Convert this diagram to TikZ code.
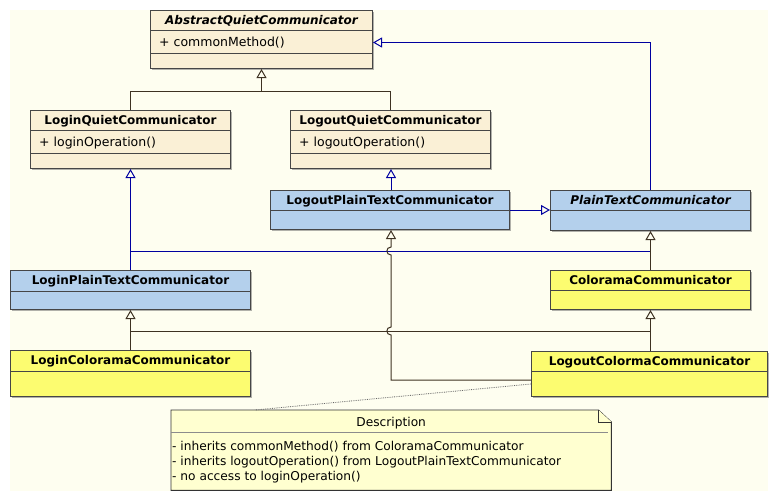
\documentclass[tikz,border=0pt]{standalone}
\usepackage{fontspec}
\setmainfont{DejaVu Sans}
\usepackage{tikz}
\usetikzlibrary{arrows.meta,shadows}
\definecolor{canvasbg}{RGB}{254,254,240}
\definecolor{quietfill}{RGB}{250,240,214}
\definecolor{plainfill}{RGB}{180,208,236}
\definecolor{colorfill}{RGB}{252,252,112}
\definecolor{notefill}{RGB}{255,255,208}
\definecolor{boxline}{RGB}{70,70,70}
\definecolor{genline}{RGB}{62,50,34}
\definecolor{realline}{RGB}{0,0,160}
\tikzset{
  cls/.style={draw=boxline, line width=1pt, anchor=north west, inner sep=0pt,
    drop shadow={shadow xshift=1.5pt, shadow yshift=-1.5pt, fill=black!60}},
  cname/.style={font=\fontsize{12}{14}\selectfont\bfseries, inner sep=0pt, anchor=base},
  cnameit/.style={cname, font=\fontsize{12}{14}\selectfont\bfseries\itshape},
  member/.style={font=\fontsize{12.5}{15}\selectfont, inner sep=0pt, anchor=base west},
  notetext/.style={member, font=\fontsize{12.2}{15}\selectfont},
  sep/.style={draw=boxline, line width=1pt},
  gen/.style={draw=genline, line width=1pt},
  inh/.style={gen, -{Triangle[open, length=9pt, width=10pt]}},
  bline/.style={draw=realline, line width=1pt},
  binh/.style={bline, -{Triangle[open, length=9pt, width=10pt]}},
  notebox/.style={draw=black!80, line width=0.9pt, fill=notefill},
  dotline/.style={draw=black!60, line width=0.8pt, densely dotted}
}
\begin{document}
\begin{tikzpicture}[x=1pt, y=-1pt]
  \useasboundingbox (0,0) rectangle (778,501);
  \fill[white] (0,0) rectangle (778,501);
  \fill[canvasbg] (10,10) rectangle (768,491);
  % quiet classes
  \node[cls, fill=quietfill, minimum width=222pt, minimum height=58pt] (abs) at (150,10) {};
  \node[cnameit] (absname) at ([yshift=-14.5pt]abs.north) {AbstractQuietCommunicator};
  \node[member] (absop) at ([xshift=9pt, yshift=-36.5pt]abs.north west) {+ commonMethod()};
  \draw[sep] ([yshift=-20pt]abs.north west) -- ([yshift=-20pt]abs.north east);
  \draw[sep] ([yshift=-43pt]abs.north west) -- ([yshift=-43pt]abs.north east);

  \node[cls, fill=quietfill, minimum width=200pt, minimum height=58pt] (loginq) at (30,110) {};
  \node[cname] (loginqname) at ([yshift=-14.5pt]loginq.north) {LoginQuietCommunicator};
  \node[member] (loginqop) at ([xshift=9pt, yshift=-36pt]loginq.north west) {+ loginOperation()};
  \draw[sep] ([yshift=-20pt]loginq.north west) -- ([yshift=-20pt]loginq.north east);
  \draw[sep] ([yshift=-43pt]loginq.north west) -- ([yshift=-43pt]loginq.north east);

  \node[cls, fill=quietfill, minimum width=200pt, minimum height=58pt] (logoutq) at (290,110) {};
  \node[cname] (logoutqname) at ([yshift=-14.5pt]logoutq.north) {LogoutQuietCommunicator};
  \node[member] (logoutqop) at ([xshift=9pt, yshift=-36pt]logoutq.north west) {+ logoutOperation()};
  \draw[sep] ([yshift=-20pt]logoutq.north west) -- ([yshift=-20pt]logoutq.north east);
  \draw[sep] ([yshift=-43pt]logoutq.north west) -- ([yshift=-43pt]logoutq.north east);

  % plain text classes
  \node[cls, fill=plainfill, minimum width=239pt, minimum height=39pt] (logoutp) at (270,190) {};
  \node[cname] (logoutpname) at ([yshift=-14.5pt]logoutp.north) {LogoutPlainTextCommunicator};
  \draw[sep] ([yshift=-20pt]logoutp.north west) -- ([yshift=-20pt]logoutp.north east);

  \node[cls, fill=plainfill, minimum width=200pt, minimum height=40pt] (plain) at (550,190) {};
  \node[cnameit] (plainname) at ([yshift=-14.5pt]plain.north) {PlainTextCommunicator};
  \draw[sep] ([yshift=-20pt]plain.north west) -- ([yshift=-20pt]plain.north east);

  \node[cls, fill=plainfill, minimum width=240pt, minimum height=39pt] (loginp) at (10,270) {};
  \node[cname] (loginpname) at ([yshift=-14.5pt]loginp.north) {LoginPlainTextCommunicator};
  \draw[sep] ([yshift=-21pt]loginp.north west) -- ([yshift=-21pt]loginp.north east);

  % colorama classes
  \node[cls, fill=colorfill, minimum width=200pt, minimum height=39pt] (colo) at (550,270) {};
  \node[cname] (coloname) at ([yshift=-14.5pt]colo.north) {ColoramaCommunicator};
  \draw[sep] ([yshift=-20pt]colo.north west) -- ([yshift=-20pt]colo.north east);

  \node[cls, fill=colorfill, minimum width=240pt, minimum height=46pt] (logincolo) at (10,350) {};
  \node[cname] (logincoloname) at ([yshift=-14.5pt]logincolo.north) {LoginColoramaCommunicator};
  \draw[sep] ([yshift=-21pt]logincolo.north west) -- ([yshift=-21pt]logincolo.north east);

  \node[cls, fill=colorfill, minimum width=236pt, minimum height=45pt] (logoutcolo) at (531,351) {};
  \node[cname] (logoutcoloname) at ([yshift=-14.5pt]logoutcolo.north) {LogoutColormaCommunicator};
  \draw[sep] ([yshift=-20pt]logoutcolo.north west) -- ([yshift=-20pt]logoutcolo.north east);

  % note
  \node[inner sep=0pt, minimum width=440pt, minimum height=80pt, anchor=north west] (note) at (171,410) {};
  \draw[notebox] (note.north west) -- ([xshift=-13pt]note.north east) -- ([yshift=-12pt]note.north east)
    -- (note.south east) -- (note.south west) -- cycle;
  \draw[notebox] ([xshift=-13pt]note.north east) -- ([xshift=-13pt, yshift=-12pt]note.north east)
    -- ([yshift=-12pt]note.north east);
  \draw[draw=black!45, line width=0.8pt] ([yshift=-22pt]note.north west) -- ([xshift=-3pt, yshift=-22pt]note.north east);
  \node[notetext, anchor=base] (notetitle) at ([yshift=-16pt]note.north) {Description};
  \node[notetext] (noteline1) at ([xshift=1pt, yshift=-40pt]note.north west) {- inherits commonMethod() from ColoramaCommunicator};
  \node[notetext] (noteline2) at ([xshift=1pt, yshift=-55pt]note.north west) {- inherits logoutOperation() from LogoutPlainTextCommunicator};
  \node[notetext] (noteline3) at ([xshift=1pt, yshift=-70pt]note.north west) {- no access to loginOperation()};

  % generalizations
  \path (abs.south) ++(0,22) coordinate (qj);
  \draw[inh] (loginq.north) |- (qj) -- (abs.south);
  \draw[gen] (logoutq.north) |- (qj);
  \coordinate (lpx) at ([xshift=1pt]logoutp.south);
  \draw[binh] (lpx |- logoutp.north) -- (lpx |- logoutq.south);
  \draw[binh] (logoutp.east) -- (logoutp.east -| plain.west);
  \draw[binh] (plain.north) |- ([yshift=-3pt]abs.east);
  \draw[binh] (loginp.north) -- (loginp.north |- loginq.south);
  \path (loginp.north) ++(0,-19) coordinate (lpj);
  \draw[bline] (lpj) -- (lpj -| plain.south);
  \draw[inh] (colo.north) -- (plain.south);
  \draw[inh] (logincolo.north) -- (loginp.south);
  \path (logincolo.north) ++(0,-19) coordinate (lcj);
  \draw[gen] (lcj) -- (lcj -| colo.south);
  \draw[inh] (logoutcolo.north -| colo.south) -- (colo.south);
  % jumps over the two crossings
  \coordinate (jlow) at (lcj -| lpx);
  \coordinate (jhigh) at (lpj -| lpx);
  \draw[inh] ([yshift=-6pt]logoutcolo.west) -| ([yshift=-4pt]jlow)
    .. controls +(-5.5,0) and +(-5.5,0) .. ([yshift=4pt]jlow)
    -- ([yshift=-4pt]jhigh)
    .. controls +(-5.5,0) and +(-5.5,0) .. ([yshift=4pt]jhigh)
    -- (lpx);
  \draw[dotline] ([yshift=-10pt]logoutcolo.west) -- ([xshift=84pt]note.north west);
\end{tikzpicture}
\end{document}
